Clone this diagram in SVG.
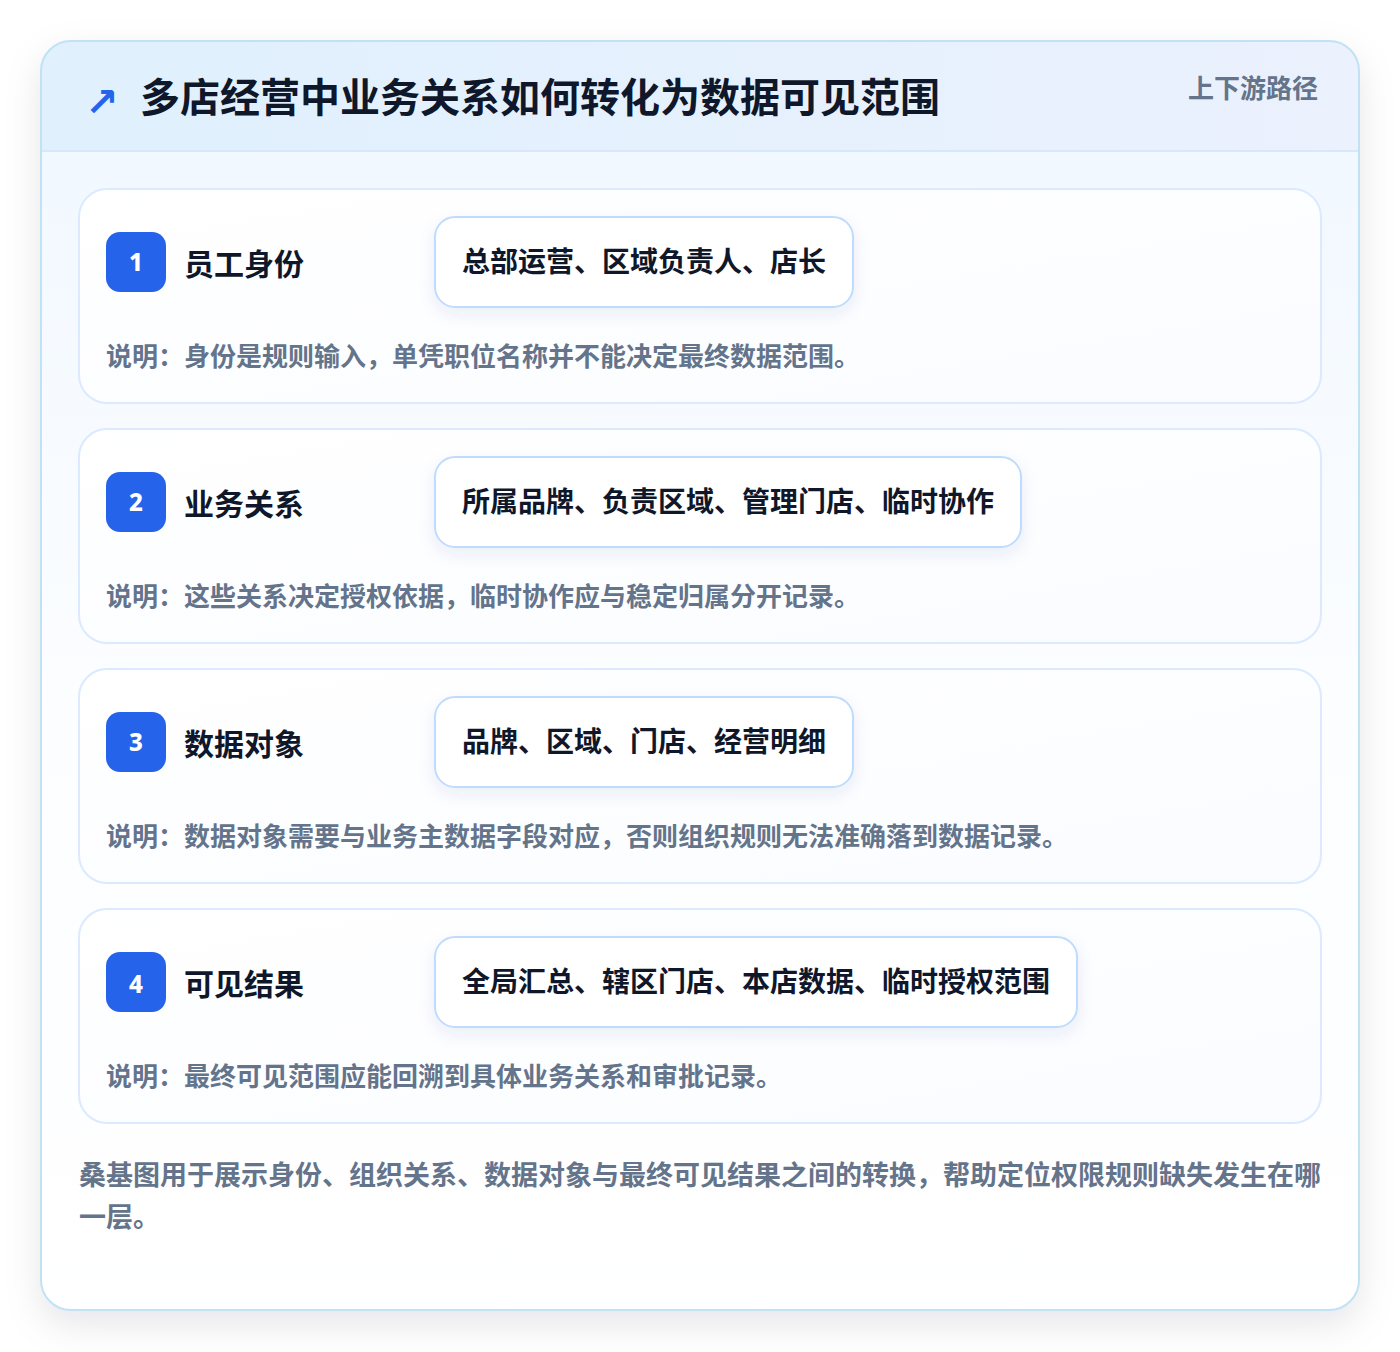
<svg xmlns="http://www.w3.org/2000/svg" width="1400" height="1352" viewBox="0 0 1400 1352">
<defs>
<linearGradient id="hdr" x1="0" y1="0" x2="1" y2="0"><stop offset="0" stop-color="#e0f0fd"/><stop offset="1" stop-color="#ebf1fd"/></linearGradient>
<linearGradient id="body" x1="0" y1="0" x2="0" y2="1"><stop offset="0" stop-color="#f0f7ff"/><stop offset="0.5" stop-color="#fbfdff"/><stop offset="1" stop-color="#ffffff"/></linearGradient>
<linearGradient id="row" x1="0" y1="0" x2="1" y2="1"><stop offset="0" stop-color="#ffffff"/><stop offset="1" stop-color="#fafcff"/></linearGradient>
<filter id="outerShadow" x="-10%" y="-10%" width="120%" height="125%"><feDropShadow dx="0" dy="14" stdDeviation="18" flood-color="#0f172a" flood-opacity="0.10"/></filter>
<filter id="pillShadow" x="-10%" y="-30%" width="120%" height="170%"><feDropShadow dx="0" dy="6" stdDeviation="8" flood-color="#1e3a8a" flood-opacity="0.08"/></filter>
<clipPath id="cardClip"><rect x="41" y="41" width="1318" height="1269" rx="30"/></clipPath>
</defs>
<style>
.title{font-family:"Noto Sans CJK SC","Noto Sans",sans-serif;font-weight:700;font-size:40px;fill:#0f172a}
.tag{font-family:"Noto Sans CJK SC","Noto Sans",sans-serif;font-weight:700;font-size:26px;fill:#64748b}
.row{fill:url(#row);stroke:#dbeafe;stroke-width:2}
.badge{fill:#2563eb}
.num{font-family:"Noto Sans","Noto Sans CJK SC",sans-serif;font-weight:800;font-size:24px;fill:#ffffff}
.lbl{font-family:"Noto Sans CJK SC","Noto Sans",sans-serif;font-weight:700;font-size:30px;fill:#0f172a}
.pill{fill:#ffffff;stroke:#bfdbfe;stroke-width:2}
.pt{font-family:"Noto Sans CJK SC","Noto Sans",sans-serif;font-weight:700;font-size:28px;fill:#0f172a}
.desc{font-family:"Noto Sans CJK SC","Noto Sans",sans-serif;font-weight:700;font-size:26px;fill:#64748b}
.note{font-family:"Noto Sans CJK SC","Noto Sans",sans-serif;font-weight:700;font-size:27px;fill:#64748b}
</style>
<rect width="1400" height="1352" fill="#ffffff"/>
<g id="card">
<rect x="41" y="41" width="1318" height="1269" rx="30" fill="url(#body)" filter="url(#outerShadow)"/>
<g clip-path="url(#cardClip)">
<rect x="41" y="41" width="1318" height="110" fill="url(#hdr)"/>
<line x1="41" y1="151" x2="1359" y2="151" stroke="#d6e8fa" stroke-width="2"/>
</g>
<rect x="41" y="41" width="1318" height="1269" rx="30" fill="none" stroke="#bfe3f5" stroke-width="2"/>
</g>
<g id="header">
<text x="85" y="116" font-family="DejaVu Sans,sans-serif" font-weight="700" font-size="40" fill="#2563eb">↗</text>
<text class="title" x="140" y="112">多店经营中业务关系如何转化为数据可见范围</text>
<text class="tag" x="1318" y="98" text-anchor="end">上下游路径</text>
</g>
<g id="connectors"></g>
<g id="step1">
<rect class="row" x="79" y="189" width="1242" height="214" rx="28"/>
<rect class="badge" x="106" y="232" width="60" height="60" rx="14"/>
<text class="num" x="136" y="271" text-anchor="middle">1</text>
<text class="lbl" x="184" y="275">员工身份</text>
<rect class="pill" x="435" y="217" width="418" height="90" rx="20" filter="url(#pillShadow)"/>
<text class="pt" x="462" y="272">总部运营、区域负责人、店长</text>
<text class="desc" x="106" y="366">说明：身份是规则输入，单凭职位名称并不能决定最终数据范围。</text>
</g>
<g id="step2">
<rect class="row" x="79" y="429" width="1242" height="214" rx="28"/>
<rect class="badge" x="106" y="472" width="60" height="60" rx="14"/>
<text class="num" x="136" y="511" text-anchor="middle">2</text>
<text class="lbl" x="184" y="515">业务关系</text>
<rect class="pill" x="435" y="457" width="586" height="90" rx="20" filter="url(#pillShadow)"/>
<text class="pt" x="462" y="512">所属品牌、负责区域、管理门店、临时协作</text>
<text class="desc" x="106" y="606">说明：这些关系决定授权依据，临时协作应与稳定归属分开记录。</text>
</g>
<g id="step3">
<rect class="row" x="79" y="669" width="1242" height="214" rx="28"/>
<rect class="badge" x="106" y="712" width="60" height="60" rx="14"/>
<text class="num" x="136" y="751" text-anchor="middle">3</text>
<text class="lbl" x="184" y="755">数据对象</text>
<rect class="pill" x="435" y="697" width="418" height="90" rx="20" filter="url(#pillShadow)"/>
<text class="pt" x="462" y="752">品牌、区域、门店、经营明细</text>
<text class="desc" x="106" y="846">说明：数据对象需要与业务主数据字段对应，否则组织规则无法准确落到数据记录。</text>
</g>
<g id="step4">
<rect class="row" x="79" y="909" width="1242" height="214" rx="28"/>
<rect class="badge" x="106" y="952" width="60" height="60" rx="14"/>
<text class="num" x="136" y="993" text-anchor="middle">4</text>
<text class="lbl" x="184" y="995">可见结果</text>
<rect class="pill" x="435" y="937" width="642" height="90" rx="20" filter="url(#pillShadow)"/>
<text class="pt" x="462" y="992">全局汇总、辖区门店、本店数据、临时授权范围</text>
<text class="desc" x="106" y="1086">说明：最终可见范围应能回溯到具体业务关系和审批记录。</text>
</g>
<g id="note">
<text class="note" x="79" y="1185">桑基图用于展示身份、组织关系、数据对象与最终可见结果之间的转换，帮助定位权限规则缺失发生在哪</text>
<text class="note" x="79" y="1227">一层。</text>
</g>
</svg>
